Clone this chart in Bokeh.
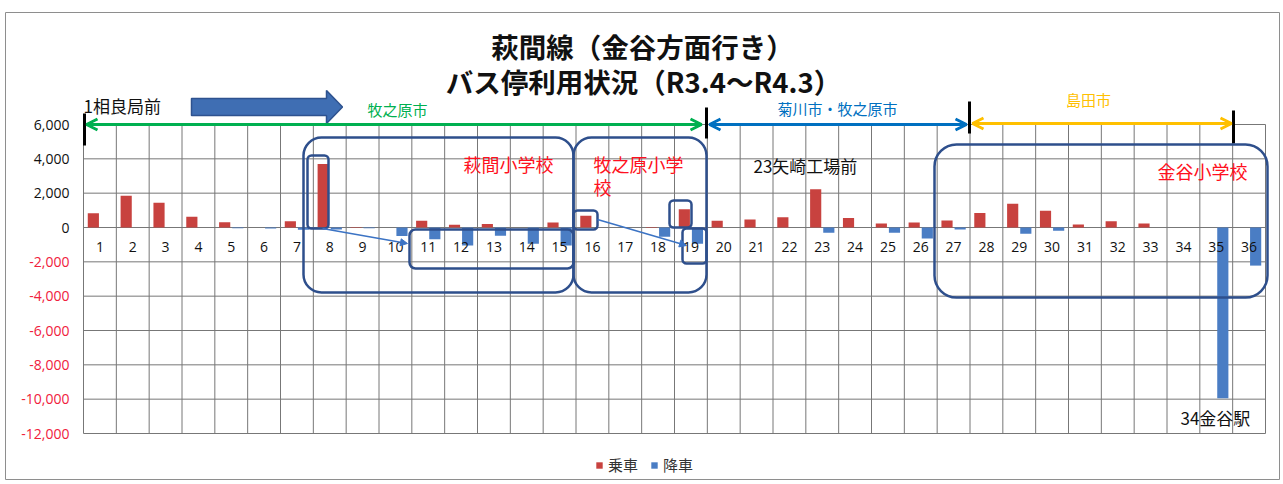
from bokeh.plotting import figure
from bokeh.models import (ColumnDataSource, Range1d, BoxAnnotation, Arrow, OpenHead,
                          NormalHead, Legend, LegendItem)
from bokeh.core.properties import value
from bokeh.transform import dodge
from bokeh.embed import file_html
from bokeh.resources import INLINE

# ---------------- data ----------------
stops = list(range(1, 37))
boarding = [830, 1850, 1440, 620, 310, 0, 370, 3700, 30, 0,
            390, 160, 200, 0, 290, 680, 0, 30, 1070, 390,
            470, 600, 2230, 560, 230, 290, 410, 850, 1380, 970,
            170, 370, 230, 0, 0, 0]
alighting = [0, 0, 0, 0, -50, -60, -130, -120, -50, -500,
             -680, -1050, -480, -950, -1050, 0, 0, -540, -950, 0,
             0, 0, -310, 0, -310, -640, -120, 0, -370, -190,
             0, 0, 0, 0, -9950, -2220]
y_ticks = [6000, 4000, 2000, 0, -2000, -4000, -6000, -8000, -10000, -12000]
series_names = ["乗車", "降車"]
title_lines = ["萩間線（金谷方面行き）", "バス停利用状況（R3.4～R4.3）"]

# ---------------- layout helpers (screen px -> data) ----------------
W, H = 1280, 480
FRAME_L, FRAME_T = 5, 12
COL_PX = (1265 - 83) / 36.0
PX_PER_UNIT = 309.0 / 18000.0


def dx(px):
    return 0.5 + (px - 83) / COL_PX


def dy(py):
    return (227 - py) / PX_PER_UNIT


JP = value("Noto Sans CJK JP")
NUM = value("Open Sans")
RED_BAR = "#C8423F"
BLUE_BAR = "#4A7DC4"
BOX = "#2E4F8C"

p = figure(width=W, height=H, output_backend="svg", toolbar_location=None,
           x_range=Range1d(dx(FRAME_L), dx(W)), y_range=Range1d(dy(H), dy(FRAME_T)),
           x_axis_type=None, y_axis_type=None,
           min_border_left=FRAME_L, min_border_right=0, min_border_top=FRAME_T,
           min_border_bottom=0)
p.outline_line_color = "#8E8E8E"
p.background_fill_color = "white"

# grid
lo, hi = min(y_ticks), max(y_ticks)
p.segment(x0=[0.5] * len(y_ticks), x1=[len(stops) + 0.5] * len(y_ticks),
          y0=y_ticks, y1=y_ticks, line_color="#777777", line_width=1)
vx = [i + 0.5 for i in range(len(stops) + 1)]
p.segment(x0=vx, x1=vx, y0=[lo] * len(vx), y1=[hi] * len(vx),
          line_color="#777777", line_width=1)

# bars
src = ColumnDataSource(dict(stop=stops, board=boarding, alight=alighting))
r1 = p.vbar(x=dodge("stop", -0.2, range=p.x_range), top="board", bottom=0, width=0.34,
            source=src, fill_color=RED_BAR, line_color=None)
r2 = p.vbar(x=dodge("stop", 0.2, range=p.x_range), top="alight", bottom=0, width=0.34,
            source=src, fill_color=BLUE_BAR, line_color=None)

# category labels
p.text(x=stops, y=[dy(246)] * len(stops), text=[str(s) for s in stops],
       text_align="center", text_baseline="middle", text_font=NUM,
       text_font_size="14px", text_color="#111111")

# y tick labels
p.text(x=[dx(69)] * len(y_ticks), y=y_ticks, text=[f"{t:,}" for t in y_ticks],
       text_align="right", text_baseline="middle", text_font=NUM, text_font_size="14px",
       text_color=["#111111" if t >= 0 else "#F0203C" for t in y_ticks])

# title
p.text(x=[dx(642), dx(643)], y=[dy(45), dy(80)], text=title_lines,
       text_align="center", text_baseline="middle", text_font=JP,
       text_font_size="27.5px", text_font_style="bold", text_color="#111111")

# big block arrow
bx = [dx(191), dx(326), dx(326), dx(342), dx(326), dx(326), dx(191)]
by = [dy(98), dy(98), dy(90), dy(106.5), dy(123), dy(115), dy(115)]
p.patch(x=bx, y=by, fill_color="#3F6EB3", line_color="#2E528F", line_width=1.5)

# region arrows
for x0, x1, yy, col in [(86, 701, 124, "#00B050"), (709, 966, 124, "#0070C0"),
                        (972, 1231, 123, "#FFC000")]:
    p.add_layout(Arrow(start=OpenHead(size=11, line_color=col, line_width=3),
                       end=OpenHead(size=11, line_color=col, line_width=3),
                       x_start=dx(x0), y_start=dy(yy), x_end=dx(x1), y_end=dy(yy),
                       line_color=col, line_width=3))

# black boundary ticks
tx = [84, 706, 969, 1233]
ty0 = [113, 107, 101, 110]
ty1 = [145, 138, 133, 143]
p.segment(x0=[dx(v) for v in tx], x1=[dx(v) for v in tx],
          y0=[dy(v) for v in ty0], y1=[dy(v) for v in ty1],
          line_color="black", line_width=3)

# region labels
p.text(x=[dx(397), dx(837), dx(1088)], y=[dy(109), dy(108), dy(99)],
       text=["牧之原市", "菊川市・牧之原市", "島田市"], text_align="center",
       text_baseline="middle", text_font=JP, text_font_size="15px",
       text_color=["#00B050", "#0070C0", "#FFC000"])

# black stop labels
p.text(x=[dx(83), dx(753), dx(1180)], y=[dy(105), dy(165), dy(417)],
       text=["1相良局前", "23矢崎工場前", "34金谷駅"], text_align="left",
       text_baseline="middle", text_font=JP, text_font_size="17px", text_color="#111111")

# red school labels
p.text(x=[dx(463), dx(593), dx(593), dx(1157)], y=[dy(163), dy(163), dy(186), dy(170)],
       text=["萩間小学校", "牧之原小学", "校", "金谷小学校"], text_align="left",
       text_baseline="middle", text_font=JP, text_font_size="18px", text_color="#FF1020")

# rounded boxes
boxes = [(303, 573, 137, 292, 18, 2.5), (573, 706, 137, 292, 18, 2.5),
         (934, 1267, 144, 297, 22, 2.5), (307, 328, 155, 228, 4, 2.5),
         (409, 573, 229, 268, 6, 2.5), (573, 597, 210, 229, 4, 2.5),
         (669, 691, 200, 227, 4, 2.5), (682, 706, 228, 263, 4, 2.5)]
for l, r, t, b, rad, lw in boxes:
    p.add_layout(BoxAnnotation(left=dx(l), right=dx(r), top=dy(t), bottom=dy(b),
                               fill_alpha=0, line_color=BOX, line_alpha=1.0,
                               line_width=lw, border_radius=rad, editable=False))

# thin connector arrows
for x0, y0, x1, y1 in [(322, 228, 407, 243), (597, 219, 686, 245)]:
    p.add_layout(Arrow(end=NormalHead(size=7, fill_color="#3B73C4", line_color="#3B73C4"),
                       x_start=dx(x0), y_start=dy(y0), x_end=dx(x1), y_end=dy(y1),
                       line_color="#3B73C4", line_width=1.5))

# legend
legend = Legend(items=[LegendItem(label=series_names[0], renderers=[r1]),
                       LegendItem(label=series_names[1], renderers=[r2])],
                orientation="horizontal", location=(587, 2),
                glyph_width=8, glyph_height=8, label_standoff=5, spacing=12,
                padding=3, label_text_font="Noto Sans CJK JP", label_text_font_size="15px",
                label_text_color="#333333",
                background_fill_alpha=0, border_line_alpha=0)
p.add_layout(legend)

open("out.html", "w").write(file_html(p, INLINE))
